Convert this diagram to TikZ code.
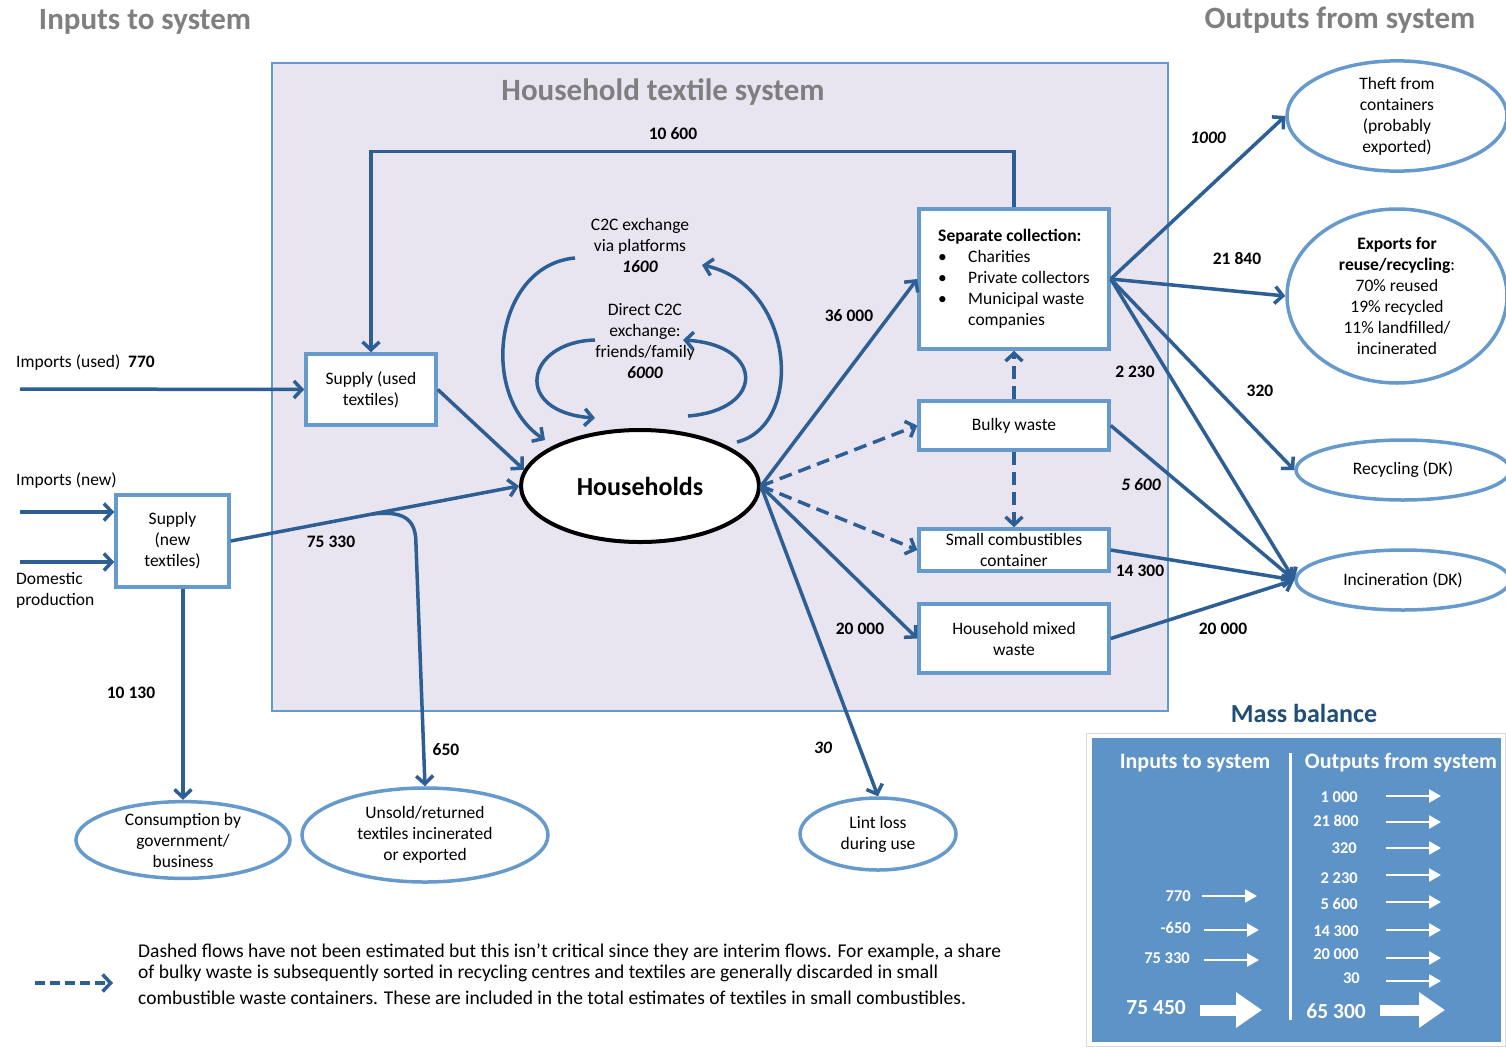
\documentclass[tikz,border=0pt]{standalone}
\usepackage{fontspec}
\setmainfont{Carlito}
\usetikzlibrary{arrows.meta,shapes.geometric,calc}
\definecolor{flowblue}{HTML}{2D5F95}
\definecolor{edgeblue}{HTML}{6699CC}
\definecolor{sysfill}{HTML}{E9E5F0}
\definecolor{headgray}{HTML}{7F7F7F}
\definecolor{massfill}{HTML}{5E93C8}
\definecolor{masstitle}{HTML}{1F4E79}
\newcommand{\myfs}[2]{\fontsize{#1}{#2}\selectfont}
\begin{document}
\begin{tikzpicture}[x=1pt,y=-1pt,
  every node/.style={font=\myfs{17.5}{21}, inner sep=0pt},
  flow/.style={draw=flowblue, line width=3.5pt, -{Straight Barb[length=8pt,width=17pt]}},
  dflow/.style={flow, dash pattern=on 13pt off 7pt},
  box/.style={draw=edgeblue, line width=3.5pt, fill=white, align=center},
  oval/.style={ellipse, draw=edgeblue, line width=3.5pt, fill=white, align=center},
  lbl/.style={font=\myfs{17.5}{21}\bfseries},
  ilbl/.style={font=\myfs{17.5}{21}\bfseries\itshape},
  head/.style={font=\myfs{31}{36}\bfseries, text=headgray},
  mbnum/.style={font=\myfs{16.5}{20}\bfseries, text=white},
  mbbignum/.style={font=\myfs{21.5}{25}\bfseries, text=white},
  mbar/.style={draw=white, line width=2.5pt, -{Triangle[length=12pt,width=13pt]}},
  mbbig/.style={draw=white, line width=11pt, -{Triangle[length=26pt,width=34pt]}},
  legendtext/.style={anchor=west, font=\myfs{19.5}{22}}]

% page frame
\fill[white] (0,0) rectangle (1506,1047);
\useasboundingbox (0,0) rectangle (1506,1047);

% headings
\node[head] (hin) at (145,22) {Inputs to system};
\node[head] (hout) at (1340,20) {Outputs from system};

% system boundary
\draw[edgeblue, line width=1.5pt, fill=sysfill] (272,63) rectangle (1168,711);
\node[head] (hsys) at (663,92) {Household textile system};

% process boxes
\node[box, minimum width=130, minimum height=71] (su) at (371,389.5) {Supply (used\\textiles)};
\node[box, minimum width=113, minimum height=92] (sn) at (172.5,541) {Supply\\(new\\textiles)};
\node[box, minimum width=190, minimum height=140] (sc) at (1014,279) {%
  \begin{tabular}{@{}p{30pt}@{}l@{}}
  \multicolumn{2}{@{}l}{\bfseries Separate collection:}\\
  \textbullet & Charities\\
  \textbullet & Private collectors\\
  \textbullet & Municipal waste\\
   & companies
  \end{tabular}};
\node[box, minimum width=190, minimum height=49] (bw) at (1014,425.5) {Bulky waste};
\node[box, minimum width=190, minimum height=42] (sm) at (1014,550) {Small combustibles\\container};
\node[box, minimum width=190, minimum height=69] (hm) at (1014,638.5) {Household mixed\\waste};

% households
\node[ellipse, draw=black, line width=4pt, fill=white, minimum width=238, minimum height=112,
      font=\myfs{26}{30}\bfseries] (hh) at (640,486) {Households};

% sinks
\node[oval, minimum width=214, minimum height=72] (cg) at (183,840) {Consumption by\\government/\\business};
\node[oval, minimum width=246, minimum height=94] (un) at (425,835) {Unsold/returned\\textiles incinerated\\or exported};
\node[oval, minimum width=156, minimum height=72] (ll) at (878,834) {Lint loss\\during use};
\node[oval, minimum width=220, minimum height=86] (th) at (1397,116) {Theft from\\containers\\(probably\\exported)};
\node[oval, minimum width=220, minimum height=174] (ex) at (1397,296) {\textbf{Exports for}\\\textbf{reuse/recycling}:\\70\% reused\\19\% recycled\\11\% landfilled/\\incinerated};
\node[oval, minimum width=214, minimum height=60] (rc) at (1403,470) {Recycling (DK)};
\node[oval, minimum width=214, minimum height=60] (ic) at (1403,580) {Incineration (DK)};

% inputs
\coordinate (iu) at (20,389);
\coordinate (inew) at (20,512);
\coordinate (idom) at (20,562);
\node[anchor=west] (liu) at (16,363) {Imports (used)\ \ \textbf{770}};
\node[anchor=west] (linew) at (16,480) {Imports (new)};
\node[anchor=north west, align=left] (lidom) at (16,572) {Domestic\\production};
\draw[flow] (iu) -- (su.west);
\draw[flow] (inew) -- (inew -| sn.west);
\draw[flow] (idom) -- (idom -| sn.west);

% supply flows
\draw[flow] (su.east) -- (hh.172);
\draw[flow] (sn.east) -- (hh.west);
\coordinate (br) at ($(sn.east)!0.49!(hh.west)$);
\draw[flow] (br) .. controls (408,510) and (416,522) .. (416,545) -- (un.north);
\draw[flow] (cg.north |- sn.south) -- (cg.north);
\draw[flow] (sc.north) -- ++(0,-56) -| (su.north);

% consumer-to-consumer loops
\coordinate (pa) at (575,258);
\coordinate (pb) at (737,442);
\coordinate (pc) at (702,265);
\coordinate (pd) at (545,440);
\coordinate (da) at (595,340);
\coordinate (db) at (595,418);
\coordinate (dc) at (688,416);
\coordinate (dd) at (683,340);
\draw[flow] (pa) .. controls (495,265) and (478,395) .. (pd);
\draw[flow] (pb) .. controls (805,425) and (795,285) .. (pc);
\draw[flow] (da) .. controls (525,342) and (512,412) .. (db);
\draw[flow] (dc) .. controls (765,410) and (765,345) .. (dd);
\node[align=center] (lplat) at (640,245) {C2C exchange\\via platforms\\\textbf{\textit{1600}}};
\node[align=center] (ldir) at (645,341) {Direct C2C\\exchange:\\friends/family\\\textbf{\textit{6000}}};

% household outflows
\draw[flow] (hh.east) -- (sc.west);
\draw[dflow] (hh.east) -- (bw.west);
\draw[dflow] (hh.east) -- (sm.west);
\draw[flow] (hh.east) -- (hm.west);
\draw[flow] (hh.east) -- (ll.north);
\draw[dflow] (bw.north) -- (sc.south);
\draw[dflow] (bw.south) -- (sm.north);

% collection outflows
\draw[flow] (sc.east) -- (th.west);
\draw[flow] (sc.east) -- (ex.west);
\draw[flow] (sc.east) -- (rc.west);
\draw[flow] (sc.east) -- (ic.west);
\draw[flow] (bw.east) -- (ic.west);
\draw[flow] (sm.east) -- (ic.west);
\draw[flow] (hm.east) -- (ic.west);

% flow quantities
\node[lbl] (q1) at (673,134) {10 600};
\node[lbl] (q2) at (849,316) {36 000};
\node[ilbl] (q3) at (1208,138) {1000};
\node[lbl] (q4) at (1237,259) {21 840};
\node[lbl] (q5) at (1135,372) {2 230};
\node[lbl] (q6) at (1260,391) {320};
\node[ilbl] (q7) at (1141,485) {5 600};
\node[lbl] (q8) at (1140,571) {14 300};
\node[lbl] (q9) at (860,629) {20 000};
\node[lbl] (q10) at (1223,629) {20 000};
\node[ilbl] (q11) at (823,748) {30};
\node[lbl] (q12) at (446,750) {650};
\node[lbl] (q13) at (331,542) {75 330};
\node[lbl] (q14) at (131,693) {10 130};

% legend for dashed flows
\coordinate (lga) at (35,983);
\coordinate (lgb) at (113,983);
\draw[dflow, dash pattern=on 10pt off 5pt] (lga) -- (lgb);
\node[legendtext] (lg1) at (138,952) {Dashed flows have not been estimated but this isn’t critical since they are interim flows. For example, a share};
\node[legendtext] (lg2) at (138,973) {of bulky waste is subsequently sorted in recycling centres and textiles are generally discarded in small};
\node[legendtext] (lg3) at (138,998) {combustible waste containers. These are included in the total estimates of textiles in small combustibles.};

% mass balance panel
\node[font=\myfs{26}{30}\bfseries, text=masstitle] (mbt) at (1304,713) {Mass balance};
\draw[black!15, line width=0.8pt, fill=white] (1086,733) rectangle (1505,1046);
\fill[massfill] (1092,738) rectangle (1501,1042);
\draw[white, line width=3pt] (1290,753) -- (1290,1020);
\node[font=\myfs{22}{26}\bfseries, text=white] (mbi) at (1195,763) {Inputs to system};
\node[font=\myfs{22}{26}\bfseries, text=white] (mbo) at (1401,763) {Outputs from system};

\node[mbnum, anchor=east] (i1) at (1191,896) {770};
\node[mbnum, anchor=east] (i2) at (1191,928) {-650};
\node[mbnum, anchor=east] (i3) at (1190,958) {75 330};
\node[mbbignum, anchor=east] (i4) at (1186,1008) {75 450};
\draw[mbar] (1202,896) -- (1257,896);
\draw[mbar] (1204,930) -- (1259,930);
\draw[mbar] (1204,960) -- (1259,960);
\draw[mbbig] (1200,1010) -- (1262,1010);

\node[mbnum, anchor=east] (o1) at (1358,797) {1 000};
\node[mbnum, anchor=east] (o2) at (1359,821) {21 800};
\node[mbnum, anchor=east] (o3) at (1357,848) {320};
\node[mbnum, anchor=east] (o4) at (1358,878) {2 230};
\node[mbnum, anchor=east] (o5) at (1358,904) {5 600};
\node[mbnum, anchor=east] (o6) at (1359,931) {14 300};
\node[mbnum, anchor=east] (o7) at (1359,954) {20 000};
\node[mbnum, anchor=east] (o8) at (1360,978) {30};
\node[mbbignum, anchor=east] (o9) at (1366,1011) {65 300};
\draw[mbar] (1386,796) -- (1441,796);
\draw[mbar] (1386,822) -- (1441,822);
\draw[mbar] (1386,848) -- (1441,848);
\draw[mbar] (1386,875) -- (1441,875);
\draw[mbar] (1386,902) -- (1441,902);
\draw[mbar] (1386,930) -- (1441,930);
\draw[mbar] (1386,958) -- (1441,958);
\draw[mbar] (1386,981) -- (1441,981);
\draw[mbbig] (1380,1010) -- (1445,1010);

\end{tikzpicture}
\end{document}
